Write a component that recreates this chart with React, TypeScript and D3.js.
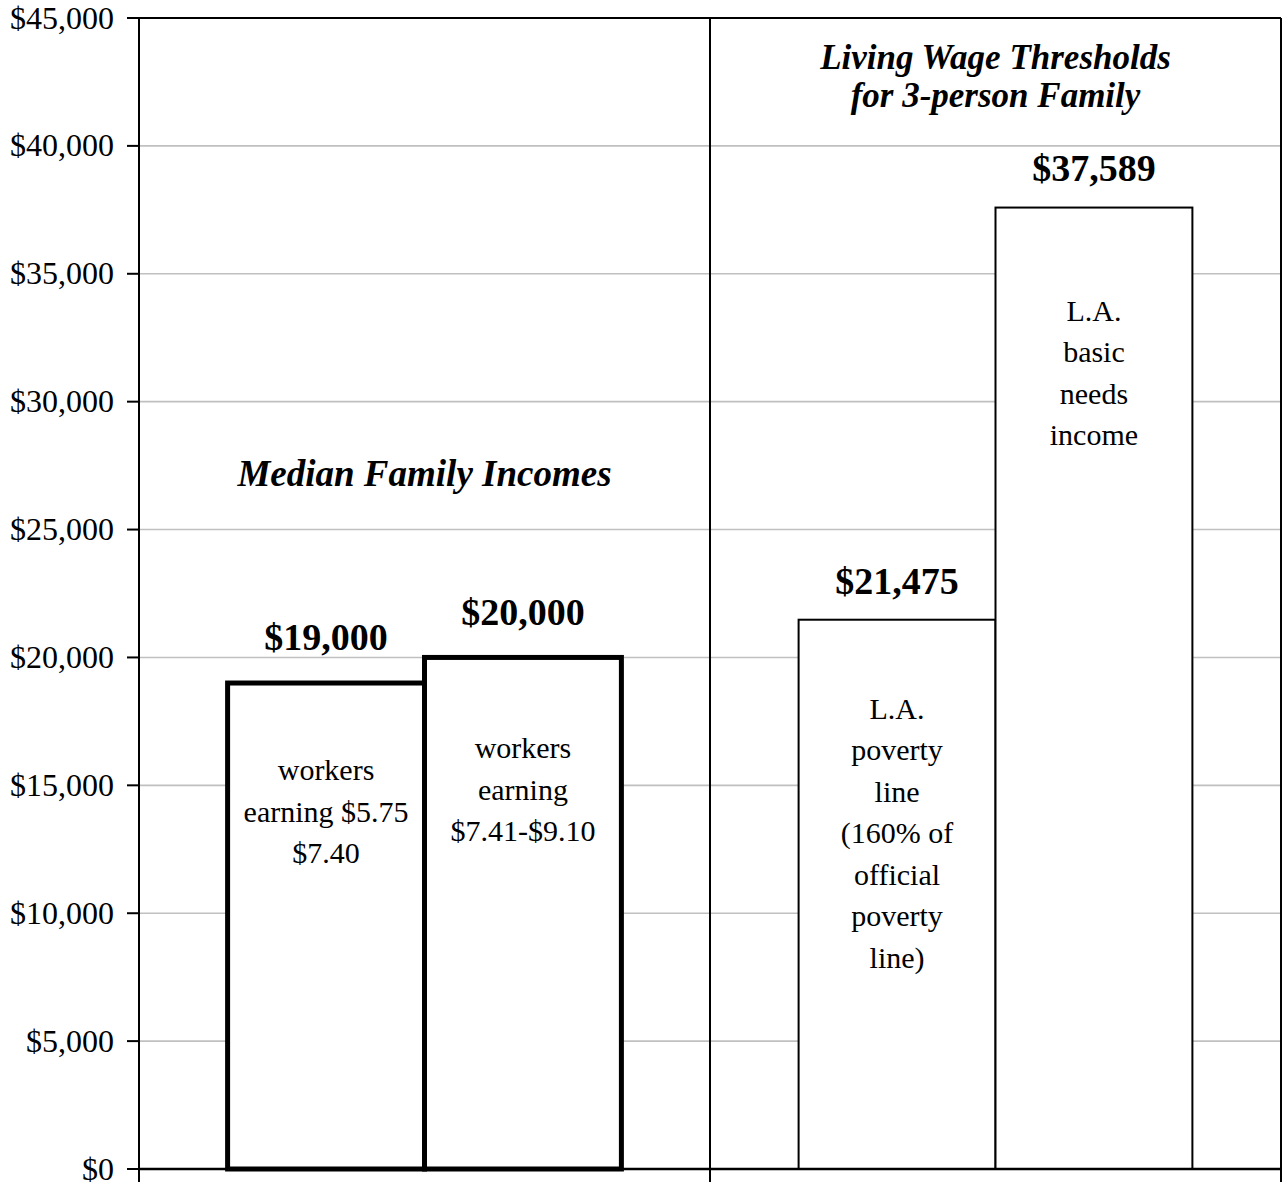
import React from "react";
import * as d3 from "d3";

const groups = ["Median Family Incomes", "Living Wage Thresholds for 3-person Family"];
const groupTitleLines = [["Median Family Incomes"], ["Living Wage Thresholds", "for 3-person Family"]];
const seriesKeys = ["first", "second"];
const barValues = [19000, 20000, 21475, 37589];
const barGroup = [0, 0, 1, 1];
const barSeries = [0, 1, 0, 1];
const valueLabels = ["$19,000", "$20,000", "$21,475", "$37,589"];
const barTexts = [
  ["workers", "earning $5.75", "$7.40"],
  ["workers", "earning", "$7.41-$9.10"],
  ["L.A.", "poverty", "line", "(160% of", "official", "poverty", "line)"],
  ["L.A.", "basic", "needs", "income"],
];
const yTicks = [0, 5000, 10000, 15000, 20000, 25000, 30000, 35000, 40000, 45000];

const W = 1283;
const H = 1183;
const FONT = "'Liberation Serif', 'Times New Roman', Times, serif";

export default function App() {
  const left = 139;
  const right = 1281;
  const top = 18;
  const bottom = 1169;

  const y = d3.scaleLinear().domain([0, 45000]).range([bottom, top]);
  const x0 = d3.scaleBand().domain(groups).range([left, right]).padding(0);
  const x1 = d3
    .scaleBand()
    .domain(seriesKeys)
    .range([0, x0.bandwidth()])
    .paddingInner(0)
    .paddingOuter(0.45);
  const fmt = d3.format("$,.0f");

  const strokeW = [5, 5, 2, 2];
  const labelGap = [33, 32, 26, 27];
  const textStart = [97, 101, 99, 113];
  const lineH = 41.5;
  const titleBaselines = [[486], [69, 107]];
  const titleSizes = [37, 35];

  return (
    <svg
      width={W}
      height={H}
      style={{ position: "absolute", left: 0, top: 0, background: "#fff" }}
      fontFamily={FONT}
    >
      <rect x={0} y={0} width={W} height={H} fill="#fff" />
      {/* gridlines */}
      {yTicks.filter((t) => t > 0 && t < 45000).map((t) => (
        <line key={"g" + t} x1={left} x2={right} y1={y(t)} y2={y(t)} stroke="#c0c0c0" strokeWidth={1.6} />
      ))}
      {/* bars */}
      {barValues.map((v, i) => {
        const bx = x0(groups[barGroup[i]])! + x1(seriesKeys[barSeries[i]])!;
        return (
          <rect
            key={"b" + i}
            x={bx}
            y={y(v)}
            width={x1.bandwidth()}
            height={y(0) - y(v)}
            fill="#fff"
            stroke="#000"
            strokeWidth={strokeW[i]}
          />
        );
      })}
      {/* category divider & ticks */}
      {[left, x0(groups[1])!, right].map((xv, i) => (
        <line key={"d" + i} x1={xv} x2={xv} y1={i === 1 ? top : bottom} y2={1182} stroke="#000" strokeWidth={2} />
      ))}
      {/* frame */}
      <line x1={left} x2={right} y1={top} y2={top} stroke="#000" strokeWidth={2} />
      <line x1={right} x2={right} y1={top} y2={bottom} stroke="#000" strokeWidth={2} />
      <line x1={left} x2={left} y1={top} y2={bottom} stroke="#000" strokeWidth={2} />
      <line x1={left} x2={right} y1={bottom} y2={bottom} stroke="#000" strokeWidth={2.5} />
      {/* y ticks */}
      {yTicks.map((t) => (
        <g key={"t" + t}>
          <line x1={127} x2={left} y1={y(t)} y2={y(t)} stroke="#000" strokeWidth={2} />
          <text x={114} y={y(t)} dy="0.33em" textAnchor="end" fontSize={32} fill="#000">
            {fmt(t)}
          </text>
        </g>
      ))}
      {/* value labels */}
      {barValues.map((v, i) => {
        const cx = x0(groups[barGroup[i]])! + x1(seriesKeys[barSeries[i]])! + x1.bandwidth() / 2;
        return (
          <text key={"v" + i} x={cx} y={y(v) - labelGap[i]} textAnchor="middle" fontWeight="bold" fontSize={38} fill="#000">
            {valueLabels[i]}
          </text>
        );
      })}
      {/* in-bar texts */}
      {barTexts.map((lines, i) => {
        const cx = x0(groups[barGroup[i]])! + x1(seriesKeys[barSeries[i]])! + x1.bandwidth() / 2;
        const y0 = y(barValues[i]) + textStart[i];
        return (
          <text key={"bt" + i} textAnchor="middle" fontSize={30} fill="#000">
            {lines.map((ln, j) => (
              <tspan key={j} x={cx} y={y0 + j * lineH}>
                {ln}
              </tspan>
            ))}
          </text>
        );
      })}
      {/* group titles */}
      {groups.map((g, i) => {
        const cx = x0(g)! + x0.bandwidth() / 2;
        return (
          <text key={"gt" + i} textAnchor="middle" fontWeight="bold" fontStyle="italic" fontSize={titleSizes[i]} fill="#000">
            {groupTitleLines[i].map((ln, j) => (
              <tspan key={j} x={cx} y={titleBaselines[i][j]}>
                {ln}
              </tspan>
            ))}
          </text>
        );
      })}
    </svg>
  );
}
